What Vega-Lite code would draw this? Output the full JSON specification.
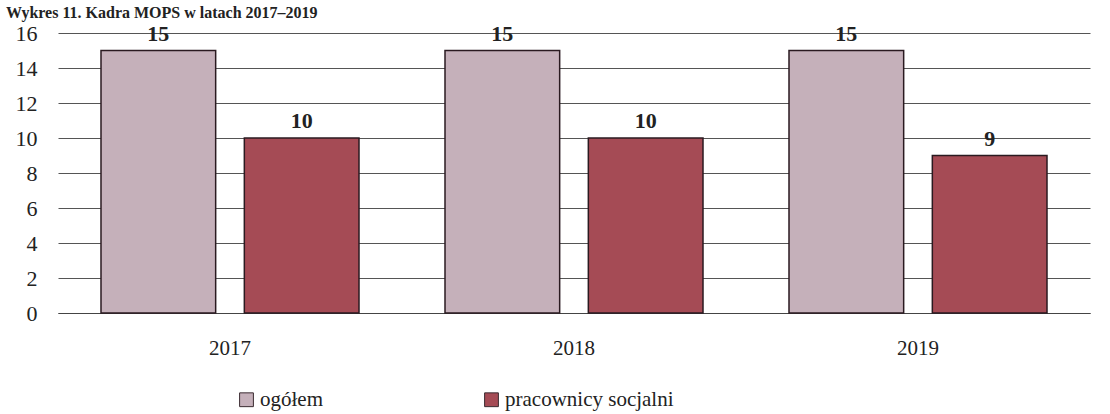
{
  "$schema": "https://vega.github.io/schema/vega-lite/v6.json",
  "autosize": "none",
  "width": 1032,
  "height": 280,
  "padding": {"left": 58, "top": 33, "right": 20, "bottom": 101},
  "background": "white",
  "title": {
    "text": "Wykres 11. Kadra MOPS w latach 2017–2019",
    "anchor": "start",
    "frame": "group",
    "dx": -52,
    "offset": 1,
    "fontSize": 16,
    "fontWeight": "bold",
    "color": "#222"
  },
  "data": {
    "values": [
      {"rok": "2017", "kategoria": "ogółem", "liczba": 15},
      {"rok": "2017", "kategoria": "pracownicy socjalni", "liczba": 10},
      {"rok": "2018", "kategoria": "ogółem", "liczba": 15},
      {"rok": "2018", "kategoria": "pracownicy socjalni", "liczba": 10},
      {"rok": "2019", "kategoria": "ogółem", "liczba": 15},
      {"rok": "2019", "kategoria": "pracownicy socjalni", "liczba": 9}
    ]
  },
  "encoding": {
    "x": {
      "field": "rok",
      "type": "nominal",
      "scale": {"paddingInner": 0.25, "paddingOuter": 0.125},
      "axis": {
        "title": null,
        "labelAngle": 0,
        "labelFontSize": 21,
        "labelColor": "#222",
        "labelPadding": 24,
        "ticks": false,
        "domainColor": "#444",
        "domainWidth": 1.2
      }
    },
    "xOffset": {
      "field": "kategoria",
      "type": "nominal",
      "scale": {"paddingInner": 0.2}
    },
    "y": {
      "field": "liczba",
      "type": "quantitative",
      "scale": {"domain": [0, 16]},
      "axis": {
        "title": null,
        "values": [0, 2, 4, 6, 8, 10, 12, 14, 16],
        "domain": false,
        "ticks": false,
        "labelFontSize": 22,
        "labelColor": "#222",
        "labelPadding": 21,
        "gridColor": "#555",
        "gridWidth": 1.2
      }
    }
  },
  "layer": [
    {
      "mark": {"type": "bar", "stroke": "#2a1a20", "strokeWidth": 1.5},
      "encoding": {
        "fill": {
          "field": "kategoria",
          "type": "nominal",
          "scale": {"domain": ["ogółem", "pracownicy socjalni"], "range": ["#c5b0ba", "#a54b55"]},
          "legend": {
            "title": null,
            "orient": "none",
            "direction": "horizontal",
            "legendX": 178,
            "legendY": 356,
            "symbolType": "square",
            "symbolSize": 190,
            "symbolStrokeColor": "#3a2a30",
            "symbolStrokeWidth": 1,
            "symbolOpacity": 1,
            "labelFontSize": 21,
            "labelColor": "#222",
            "labelOffset": 3,
            "labelLimit": 400,
            "columnPadding": 158
          }
        }
      }
    },
    {
      "mark": {
        "type": "text",
        "baseline": "bottom",
        "dy": -5,
        "fontSize": 22,
        "fontWeight": "bold",
        "color": "#222"
      },
      "encoding": {
        "text": {"field": "liczba", "type": "quantitative"}
      }
    }
  ],
  "config": {
    "view": {"stroke": null},
    "font": "Liberation Serif",
    "axis": {"labelFont": "Liberation Serif"},
    "legend": {"labelFont": "Liberation Serif"},
    "title": {"font": "Liberation Serif"},
    "text": {"font": "Liberation Serif"}
  }
}
